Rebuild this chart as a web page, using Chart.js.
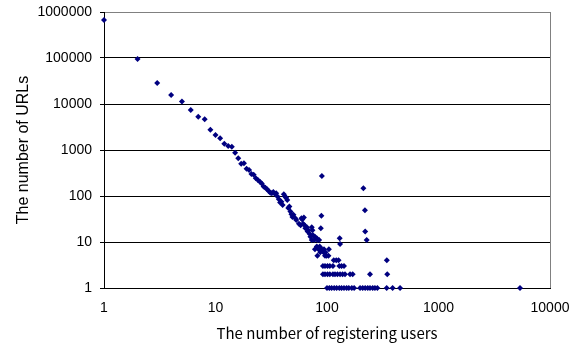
<!DOCTYPE html>
<html>
<head>
<meta charset="utf-8">
<script src="https://cdn.jsdelivr.net/npm/chart.js@4.4.0/dist/chart.umd.min.js"></script>
<style>
  body { margin: 0; background: #fff; }
  #wrap { width: 580px; height: 345px; }
</style>
</head>
<body>
<div id="wrap"><canvas id="grafico" width="580" height="345"></canvas></div>
<script>
// Curva principal (usuarios -> URLs)
const curveUsers = [1, 2, 3, 4, 5, 6, 7, 8, 9, 10, 11, 12, 13, 14, 15, 16, 17, 18, 19, 20,
  21, 22, 23, 24, 25, 26, 27, 28, 29, 30, 31, 32, 33, 34, 35, 36, 37, 38, 39, 40,
  41, 42, 43, 44, 45, 46, 47, 48, 49, 50, 52, 53, 56, 58, 59, 60, 61, 62, 63, 64,
  66, 67, 68, 70, 71, 73, 73, 74, 75, 77, 78, 81, 82, 85];
const curveUrls = [670000, 95000, 28600, 15700, 11400, 7400, 5300, 4650, 2750, 2130, 1800, 1360, 1220, 1170, 870, 660, 505, 513, 392, 367,
  300, 291, 242, 223, 205, 188, 160, 152, 140, 128, 118, 115, 122, 112, 115, 97, 85, 72, 75, 64,
  109, 97, 92, 82, 55, 59, 46, 40, 35, 39, 33, 30, 25, 23, 33, 31, 25, 34, 23, 20,
  21, 17, 18, 15, 13, 21, 11, 18, 14, 11, 13, 12, 11, 11];

// Cola: valores bajos y puntos sueltos
const tailUsers = [78, 81, 84, 86, 87, 90, 93, 94, 96, 97, 99, 103, 104, 82,
  90, 89, 88, 130, 131, 212, 219, 220, 227,
  115, 121, 127, 344,
  92, 96, 101, 106, 113, 129, 135, 142,
  92, 96, 101, 106, 113, 118, 124, 131, 138, 145, 161, 170, 243, 347,
  100, 105, 110, 116, 122, 129, 135, 142, 150, 157, 167, 175, 198, 209, 220, 232, 243, 257, 269, 283, 343, 388, 452, 5380];
const tailUrls = [7, 8, 7, 8, 6, 7, 6, 7, 5, 6, 5, 5, 7, 5,
  272, 37, 20, 12, 9, 147, 49, 17, 11,
  4, 4, 4, 4,
  3, 3, 3, 3, 3, 3, 3, 3,
  2, 2, 2, 2, 2, 2, 2, 2, 2, 2, 2, 2, 2, 2,
  1, 1, 1, 1, 1, 1, 1, 1, 1, 1, 1, 1, 1, 1, 1, 1, 1, 1, 1, 1, 1, 1, 1, 1];

const xTicks = [1, 10, 100, 1000, 10000];
const yTicks = [1, 10, 100, 1000, 10000, 100000, 1000000];

const puntos = curveUsers.map((u, i) => ({ x: u, y: curveUrls[i] }))
  .concat(tailUsers.map((u, i) => ({ x: u, y: tailUrls[i] })));

const fuente = "'Liberation Sans', Arial, sans-serif";

new Chart(document.getElementById("grafico").getContext("2d"), {
  type: "scatter",
  data: {
    datasets: [
      {
        data: puntos,
        backgroundColor: "#000080",
        borderColor: "#000080",
        borderWidth: 0,
        pointStyle: "rectRot",
        pointRadius: 3,
        clip: false,
      },
    ],
  },
  options: {
    responsive: false,
    animation: false,
    layout: { padding: { top: 12, right: 30, left: 0, bottom: 0 } },
    plugins: { legend: { display: false }, tooltip: { enabled: false } },
    scales: {
      x: {
        type: "logarithmic",
        min: 1,
        max: 10000,
        afterBuildTicks: (s) => { s.ticks = xTicks.map((v) => ({ value: v })); },
        afterFit: (s) => { s.height = 57; s.paddingLeft = 0; s.paddingRight = 0; },
        ticks: {
          callback: (v) => String(v),
          color: "#000",
          font: { family: fuente, size: 14 },
          padding: 12,
          maxRotation: 0,
          autoSkip: false,
        },
        grid: {
          drawTicks: false,
          color: (ctx) => (ctx.tick && ctx.tick.value === 10000 ? "#808080" : "transparent"),
        },
        border: { color: "#000", width: 1 },
        title: {
          display: true,
          text: "The number of registering users",
          color: "#000",
          font: { family: "'Noto Sans CJK JP', sans-serif", size: 15 },
          padding: { top: 0, bottom: 3 },
        },
      },
      y: {
        type: "logarithmic",
        min: 1,
        max: 1000000,
        afterBuildTicks: (s) => { s.ticks = yTicks.map((v) => ({ value: v })); },
        afterFit: (s) => { s.width = 104; s.paddingTop = 0; s.paddingBottom = 0; },
        ticks: {
          callback: (v) => String(v),
          color: "#000",
          font: { family: fuente, size: 14 },
          padding: 8,
          autoSkip: false,
        },
        grid: {
          color: (ctx) => (ctx.tick && ctx.tick.value === 1000000 ? "#808080" : "#000"),
          tickColor: "#000",
          tickLength: 4,
        },
        border: { color: "#000", width: 1 },
        title: {
          display: true,
          text: "The number of URLs",
          color: "#000",
          font: { family: fuente, size: 16 },
          padding: { top: 14, bottom: 0 },
        },
      },
    },
  },
});
</script>
</body>
</html>
